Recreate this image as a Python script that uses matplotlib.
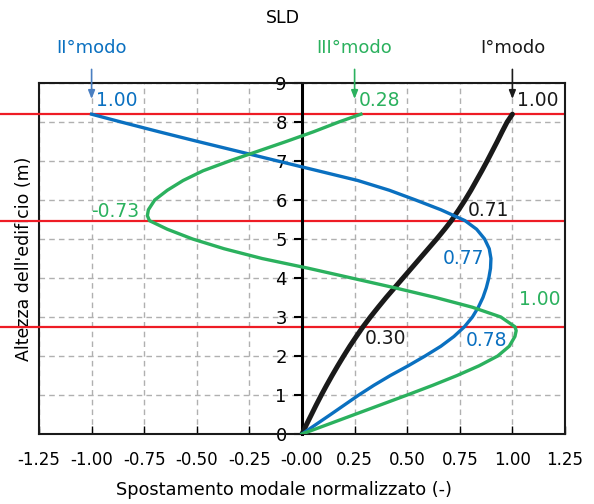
import matplotlib.pyplot as plt

# quote dei piani (m)
piani = [2.75, 5.47, 8.2]

# I modo (nero)
y_I = [0, 0.25, 0.5, 0.75, 1.0, 1.25, 1.5, 1.75, 2.0, 2.25, 2.5, 2.75, 3.0, 3.25, 3.5,
       3.75, 4.0, 4.25, 4.5, 4.75, 5.0, 5.25, 5.47, 5.75, 6.0, 6.25, 6.5, 6.75, 7.0,
       7.25, 7.5, 7.75, 8.0, 8.2]
x_I = [0, 0.022, 0.045, 0.068, 0.092, 0.117, 0.143, 0.170, 0.198, 0.227, 0.258, 0.29,
       0.325, 0.362, 0.40, 0.44, 0.48, 0.52, 0.56, 0.60, 0.64, 0.678, 0.71, 0.745,
       0.775, 0.803, 0.829, 0.855, 0.88, 0.904, 0.928, 0.951, 0.975, 1.0]

# II modo (blu)
y_II = [0, 0.25, 0.5, 0.75, 1.0, 1.25, 1.5, 1.75, 2.0, 2.25, 2.5, 2.75, 3.0, 3.25, 3.5,
        3.75, 4.0, 4.25, 4.5, 4.75, 5.0, 5.25, 5.47, 5.75, 6.0, 6.25, 6.5, 6.75, 7.0,
        7.25, 7.5, 7.75, 8.0, 8.2]
x_II = [0, 0.068, 0.136, 0.203, 0.27, 0.342, 0.42, 0.505, 0.585, 0.66, 0.722, 0.772,
        0.81, 0.838, 0.86, 0.876, 0.888, 0.896, 0.898, 0.89, 0.868, 0.83, 0.775, 0.66,
        0.54, 0.415, 0.265, 0.075, -0.115, -0.305, -0.495, -0.68, -0.86, -1.0]

# III modo (verde)
y_III = [0, 0.25, 0.5, 0.75, 1.0, 1.25, 1.5, 1.75, 2.0, 2.25, 2.5, 2.65, 2.75, 3.0, 3.25,
         3.5, 3.75, 4.0, 4.25, 4.5, 4.75, 5.0, 5.25, 5.47, 5.6, 5.75, 6.0, 6.25, 6.5,
         6.75, 7.0, 7.25, 7.5, 7.75, 8.0, 8.2]
x_III = [0, 0.125, 0.25, 0.375, 0.5, 0.622, 0.737, 0.842, 0.93, 0.985, 1.012, 1.018,
         1.012, 0.945, 0.81, 0.635, 0.44, 0.235, 0.03, -0.19, -0.37, -0.52, -0.64,
         -0.725, -0.735, -0.73, -0.70, -0.64, -0.565, -0.47, -0.345, -0.21, -0.075,
         0.055, 0.175, 0.28]

xticks = [-1.25, -1.0, -0.75, -0.5, -0.25, 0, 0.25, 0.5, 0.75, 1.0, 1.25]
xlabels = ["-1.25", "-1.00", "-0.75", "-0.50", "-0.25", "-0.00", "0.25", "0.50",
           "0.75", "1.00", "1.25"]
yticks = list(range(10))

NERO = "#1a1a1a"
BLU = "#0a70c0"
VERDE = "#2bb15e"
ROSSO = "#ee1c25"

fig = plt.figure(figsize=(5.94, 5.04), dpi=100)
ax = fig.add_axes([39/594, 1 - 434/504, 526/594, 351/504])

ax.set_xlim(-1.25, 1.25)
ax.set_ylim(0, 9)
ax.set_xticks(xticks)
ax.set_xticklabels(xlabels)
ax.set_yticks(yticks)
ax.grid(True, linestyle=(0, (4, 3)), color="#b0b0b0", linewidth=1)
ax.set_axisbelow(True)

# asse y al centro, cornice a sinistra
ax.spines["left"].set_position(("data", 0))
ax.spines["left"].set_linewidth(2.2)
for s in ["top", "right", "bottom"]:
    ax.spines[s].set_linewidth(1.5)
    ax.spines[s].set_color(NERO)
ax.axvline(-1.25, color=NERO, lw=1.5, clip_on=False)
ax.tick_params(axis="y", direction="out", length=6, width=1.5, pad=5, labelsize=13)
ax.tick_params(axis="x", direction="in", length=6, width=1, pad=12, labelsize=12)

# linee dei piani
for h in piani:
    ax.plot([-1.436, 1.24], [h, h], color=ROSSO, lw=1.6, clip_on=False, zorder=2)

ax.plot(x_I, y_I, color=NERO, lw=3.6, zorder=3, solid_capstyle="round",
        solid_joinstyle="round")
ax.plot(x_II, y_II, color=BLU, lw=2.4, zorder=4, solid_joinstyle="round")
ax.plot(x_III, y_III, color=VERDE, lw=2.4, zorder=5, solid_joinstyle="round")

ax.set_xlabel("Spostamento modale normalizzato (-)", fontsize=12.8)
ax.xaxis.set_label_coords((284 - 39) / 526, -0.135)
ax.set_ylabel("Altezza dell'edificio (m)", fontsize=12.5)
ax.yaxis.set_label_coords(-0.012, 0.5)
fig.text(283/594, 1 - 18/504, "SLD", ha="center", va="center", fontsize=12.5)

# etichette dei modi e frecce
modi = [("II°modo", -1.0, BLU, "#4a7fc1"), ("III°modo", 0.25, VERDE, VERDE),
        ("I°modo", 1.0, NERO, NERO)]
for testo, xm, col, colf in modi:
    ax.text(xm, 9.9, testo, color=col, ha="center", va="center", fontsize=13,
            clip_on=False)
    ax.annotate("", xy=(xm, 8.52), xytext=(xm, 9.42),
                arrowprops=dict(arrowstyle="-|>,head_length=0.5,head_width=0.2",
                                color=colf, lw=1.2), annotation_clip=False)

# valori modali
valori = [("1.00", -0.98, 8.54, BLU), ("0.28", 0.27, 8.54, VERDE),
          ("1.00", 1.02, 8.54, NERO), ("-0.73", -1.0, 5.7, VERDE),
          ("0.71", 0.79, 5.73, NERO), ("0.77", 0.67, 4.5, BLU),
          ("1.00", 1.03, 3.44, VERDE), ("0.30", 0.30, 2.44, NERO),
          ("0.78", 0.78, 2.41, BLU)]
for testo, xv, yv, col in valori:
    ax.text(xv, yv, testo, color=col, ha="left", va="center", fontsize=13.5, zorder=6)

fig.savefig("out.png", dpi=100)
